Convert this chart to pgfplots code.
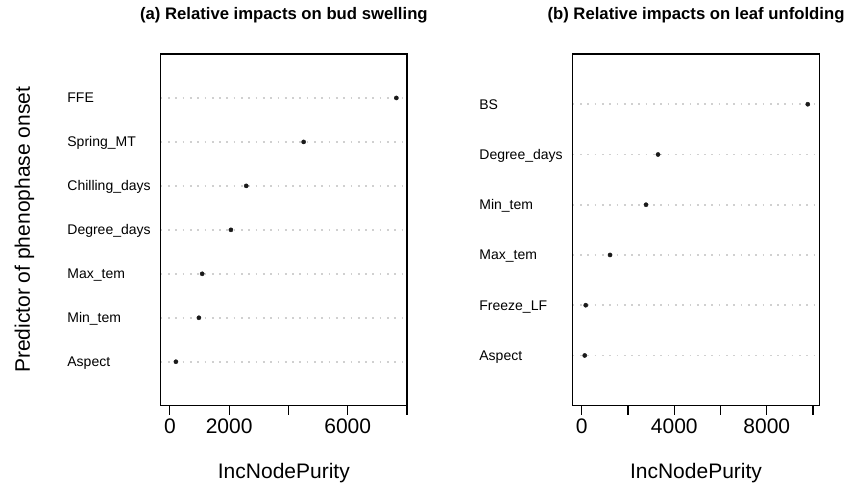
\documentclass[border=0pt]{standalone}
\usepackage{fontspec}
\setmainfont{Liberation Sans}
\usepackage{pgfplots}
\pgfplotsset{compat=1.18}
\definecolor{lgray}{HTML}{D0D0D0}
\definecolor{dotc}{HTML}{1A1A1A}
\begin{document}
\begin{tikzpicture}
\useasboundingbox (0,0) rectangle (856bp,486bp);
\pgfplotsset{
  dotstyle/.style={
    scale only axis, height=351.7bp, ymin=0,
    axis line style={line width=1.2bp, black},
    xtick align=outside, ytick align=inside, major tick length=9bp,
    xtick pos=bottom, ytick pos=left,
    scaled x ticks=false,
    xtick style={line width=1.2bp, black},
    ytick style={draw=none},
    ymajorgrids,
    major y grid style={lgray, line width=1.7bp, dash pattern=on 1.7bp off 5.6bp},
    /pgf/number format/assume math mode=true,
    xticklabel style={font=\fontsize{21bp}{24bp}\selectfont, anchor=base, inner sep=0pt, yshift=-18.8bp},
    yticklabel style={font=\fontsize{14bp}{16bp}\selectfont, anchor=base west, inner sep=0pt, xshift=-93.5bp, yshift=-5bp},
    label style={font=\fontsize{21bp}{24bp}\selectfont},
    xlabel style={at={(axis description cs:0.5,-0.2064)}, anchor=base},
    title style={font=\bfseries\fontsize{16.7bp}{19bp}\selectfont, at={(axis description cs:0.5,1.0825)}, anchor=base},
  }
}
\begin{axis}[dotstyle, at={(160.7bp,80.3bp)}, anchor=south west, width=246.3bp,
  xmin=-310, xmax=8000, ymax=8,
  xtick={0,2000,4000,6000,8000}, xticklabels={0,2000,,6000,},
  ytick={1,2,3,4,5,6,7},
  yticklabels={Aspect,Min\_tem,Max\_tem,Degree\_days,Chilling\_days,Spring\_MT,FFE},
  xlabel={IncNodePurity},
  ylabel={Predictor of phenophase onset},
  ylabel style={at={(axis description cs:-0.5307,0.5)}, anchor=base},
  title={(a) Relative impacts on bud swelling}]
\addplot[only marks, mark=*, mark size=2.1bp, dotc] coordinates {
(203,1) (979,2) (1090,3) (2059,4) (2576,5) (4513,6) (7640,7)};
\end{axis}
\begin{axis}[dotstyle, at={(572.7bp,80.3bp)}, anchor=south west, width=246.6bp,
  xmin=-390, xmax=10270, ymax=7,
  xtick={0,2000,4000,6000,8000,10000}, xticklabels={0,,4000,,8000,},
  ytick={1,2,3,4,5,6},
  yticklabels={Aspect,Freeze\_LF,Max\_tem,Min\_tem,Degree\_days,BS},
  xlabel={IncNodePurity},
  title={(b) Relative impacts on leaf unfolding}]
\addplot[only marks, mark=*, mark size=2.1bp, dotc] coordinates {
(130,1) (173,2) (1224,3) (2780,4) (3299,5) (9771,6)};
\end{axis}
\end{tikzpicture}
\end{document}
